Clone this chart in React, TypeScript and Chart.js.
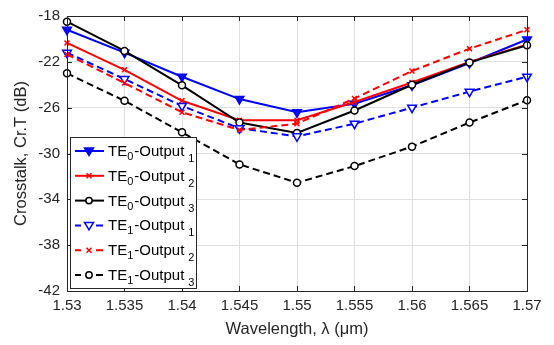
import React, { useEffect, useRef } from "react";
import { Chart, registerables } from "chart.js";

Chart.register(...registerables);

const wavelengths = [1.53, 1.535, 1.54, 1.545, 1.55, 1.555, 1.56, 1.565, 1.57];
const te0Out1 = [-19.2, -21.2, -23.3, -25.25, -26.4, -25.65, -24.05, -22.1, -20.05];
const te0Out2 = [-20.35, -22.7, -25.4, -27.1, -27.1, -25.5, -23.8, -22.0, -20.5];
const te0Out3 = [-18.5, -21.05, -24.05, -27.3, -28.2, -26.25, -24.0, -22.05, -20.55];
const te1Out1 = [-21.2, -23.5, -25.85, -27.8, -28.5, -27.4, -26.0, -24.6, -23.3];
const te1Out2 = [-21.35, -23.85, -26.4, -27.95, -27.4, -25.2, -22.8, -20.85, -19.2];
const te1Out3 = [-23.0, -25.4, -28.15, -30.95, -32.55, -31.1, -29.4, -27.3, -25.35];

const xTicks = [1.53, 1.535, 1.54, 1.545, 1.55, 1.555, 1.56, 1.565, 1.57];
const yTicks = [-42, -38, -34, -30, -26, -22, -18];

const seriesNames = [
  "TE_0-Output_1",
  "TE_0-Output_2",
  "TE_0-Output_3",
  "TE_1-Output_1",
  "TE_1-Output_2",
  "TE_1-Output_3",
];
const seriesValues = [te0Out1, te0Out2, te0Out3, te1Out1, te1Out2, te1Out3];
const seriesColors = ["#0000ff", "#ff0000", "#000000", "#0000ff", "#ff0000", "#000000"];
const seriesDashed = [false, false, false, true, true, true];
const seriesMarkers = ["triDown", "x", "circle", "triDownOpen", "x", "circle"];

const FONT = "'Liberation Sans', Arial, Helvetica, sans-serif";
const AXIS = "#262626";

function drawMarker(ctx: CanvasRenderingContext2D, kind: string, x: number, y: number, color: string) {
  ctx.save();
  ctx.setLineDash([]);
  ctx.strokeStyle = color;
  ctx.fillStyle = color;
  ctx.lineWidth = 1.5;
  if (kind === "triDown" || kind === "triDownOpen") {
    ctx.beginPath();
    ctx.moveTo(x - 4.5, y - 3);
    ctx.lineTo(x + 4.5, y - 3);
    ctx.lineTo(x, y + 4.5);
    ctx.closePath();
    if (kind === "triDown") ctx.fill();
    else {
      ctx.fillStyle = "#ffffff";
      ctx.fill();
    }
    ctx.stroke();
  } else if (kind === "x") {
    ctx.beginPath();
    ctx.moveTo(x - 2.5, y - 2.5);
    ctx.lineTo(x + 2.5, y + 2.5);
    ctx.moveTo(x + 2.5, y - 2.5);
    ctx.lineTo(x - 2.5, y + 2.5);
    ctx.stroke();
  } else {
    ctx.beginPath();
    ctx.arc(x, y, 3.2, 0, Math.PI * 2);
    ctx.fillStyle = "#ffffff";
    ctx.fill();
    ctx.stroke();
  }
  ctx.restore();
}

const framePlugin = {
  id: "frame",
  afterDatasetsDraw(chart: any) {
    const { ctx, chartArea } = chart;
    const { left, right, top, bottom } = chartArea;
    const xs = chart.scales.x;
    const ys = chart.scales.y;
    ctx.save();
    ctx.strokeStyle = AXIS;
    ctx.lineWidth = 1;
    ctx.setLineDash([]);
    ctx.strokeRect(Math.round(left) + 0.5, Math.round(top) + 0.5, Math.round(right - left), Math.round(bottom - top));
    const tl = 5;
    ctx.beginPath();
    xTicks.forEach((v) => {
      const px = Math.round(xs.getPixelForValue(v)) + 0.5;
      ctx.moveTo(px, bottom);
      ctx.lineTo(px, bottom - tl);
      ctx.moveTo(px, top);
      ctx.lineTo(px, top + tl);
    });
    yTicks.forEach((v) => {
      const py = Math.round(ys.getPixelForValue(v)) + 0.5;
      ctx.moveTo(left, py);
      ctx.lineTo(left + tl, py);
      ctx.moveTo(right, py);
      ctx.lineTo(right - tl, py);
    });
    ctx.stroke();
    ctx.restore();

    // legend
    const lx = 70, ly = 137, lw = 126, lh = 151;
    ctx.save();
    ctx.fillStyle = "#ffffff";
    ctx.fillRect(lx, ly, lw, lh);
    ctx.strokeStyle = AXIS;
    ctx.lineWidth = 1;
    ctx.strokeRect(lx + 0.5, ly + 0.5, lw, lh);
    seriesNames.forEach((name, i) => {
      const ry = 151 + i * 24.8;
      const color = seriesColors[i];
      ctx.save();
      ctx.strokeStyle = color;
      ctx.lineWidth = 2;
      ctx.setLineDash([]);
      ctx.beginPath();
      if (seriesDashed[i]) {
        ctx.moveTo(75, ry);
        ctx.lineTo(81, ry);
        ctx.moveTo(96, ry);
        ctx.lineTo(103, ry);
      } else {
        ctx.moveTo(75, ry);
        ctx.lineTo(104, ry);
      }
      ctx.stroke();
      ctx.restore();
      drawMarker(ctx, seriesMarkers[i], 89, ry, color);

      // text with subscripts
      const parts = name.split("_");
      let tx = 108;
      ctx.fillStyle = "#000000";
      ctx.textBaseline = "alphabetic";
      ctx.textAlign = "left";
      const base = ry + 5;
      const mainFont = `15px ${FONT}`;
      const subFont = `11px ${FONT}`;
      ctx.font = mainFont;
      ctx.fillText(parts[0], tx, base);
      tx += ctx.measureText(parts[0]).width;
      const sub0 = parts[1].charAt(0);
      const rest = parts[1].slice(1);
      ctx.font = subFont;
      ctx.fillText(sub0, tx, base + 4);
      tx += ctx.measureText(sub0).width + 1;
      ctx.font = mainFont;
      ctx.fillText(rest, tx, base);
      tx += ctx.measureText(rest).width + 4;
      ctx.font = subFont;
      ctx.fillText(parts[2], tx, base + 6);
    });
    ctx.restore();
  },
};

export default function App() {
  const ref = useRef<HTMLCanvasElement | null>(null);
  useEffect(() => {
    document.body.style.margin = "0";
    const canvas = ref.current;
    if (!canvas) return;
    const n = seriesNames.length;
    const chart = new Chart(canvas, {
      type: "line",
      data: {
        datasets: seriesValues.map((vals, i) => ({
          label: seriesNames[i],
          data: wavelengths.map((w, j) => ({ x: w, y: vals[j] })),
          borderColor: seriesColors[i],
          backgroundColor: seriesColors[i],
          borderWidth: 2,
          borderDash: seriesDashed[i] ? [7, 4] : [],
          pointStyle:
            seriesMarkers[i] === "x" ? "crossRot" : seriesMarkers[i] === "circle" ? "circle" : "triangle",
          rotation: seriesMarkers[i].startsWith("tri") ? 180 : 0,
          pointRadius: seriesMarkers[i] === "circle" ? 3.5 : seriesMarkers[i] === "x" ? 3.5 : 5,
          pointBorderWidth: 1.5,
          pointBorderColor: seriesColors[i],
          pointBackgroundColor:
            seriesMarkers[i] === "triDown" ? seriesColors[i] : "#ffffff",
          tension: 0,
          fill: false,
          clip: false as any,
          order: n - i,
        })),
      },
      options: {
        responsive: false,
        animation: false,
        devicePixelRatio: 1,
        layout: { padding: { top: 11, right: 27, left: 0, bottom: 0 } },
        plugins: { legend: { display: false }, tooltip: { enabled: false } },
        scales: {
          x: {
            type: "linear",
            min: 1.53,
            max: 1.57,
            afterBuildTicks: (scale: any) => {
              scale.ticks = xTicks.map((v) => ({ value: v }));
            },
            afterFit: (scale: any) => {
              scale.height = 54;
            },
            ticks: {
              font: { family: FONT, size: 15 },
              color: AXIS,
              padding: 6,
              maxRotation: 0,
              autoSkip: false,
              callback: (v: any) => String(parseFloat(Number(v).toFixed(3))),
            },
            grid: { color: "#dfdfdf", drawTicks: false, lineWidth: 1 },
            border: { display: false },
            title: {
              display: true,
              text: "Wavelength, λ (μm)",
              font: { family: FONT, size: 16.5 },
              color: AXIS,
              padding: 6,
            },
          },
          y: {
            type: "linear",
            min: -42,
            max: -18,
            afterBuildTicks: (scale: any) => {
              scale.ticks = yTicks.map((v) => ({ value: v }));
            },
            afterFit: (scale: any) => {
              scale.width = 67;
            },
            ticks: {
              font: { family: FONT, size: 15 },
              color: AXIS,
              padding: 7,
              callback: (v: any) => String(v),
            },
            grid: { color: "#dfdfdf", drawTicks: false, lineWidth: 1 },
            border: { display: false },
            title: {
              display: true,
              text: "Crosstalk, Cr.T (dB)",
              font: { family: FONT, size: 16.5 },
              color: AXIS,
              padding: 12,
            },
          },
        },
      },
      plugins: [framePlugin],
    });
    return () => chart.destroy();
  }, []);
  return <canvas ref={ref} width={554} height={345} style={{ display: "block" }} />;
}
